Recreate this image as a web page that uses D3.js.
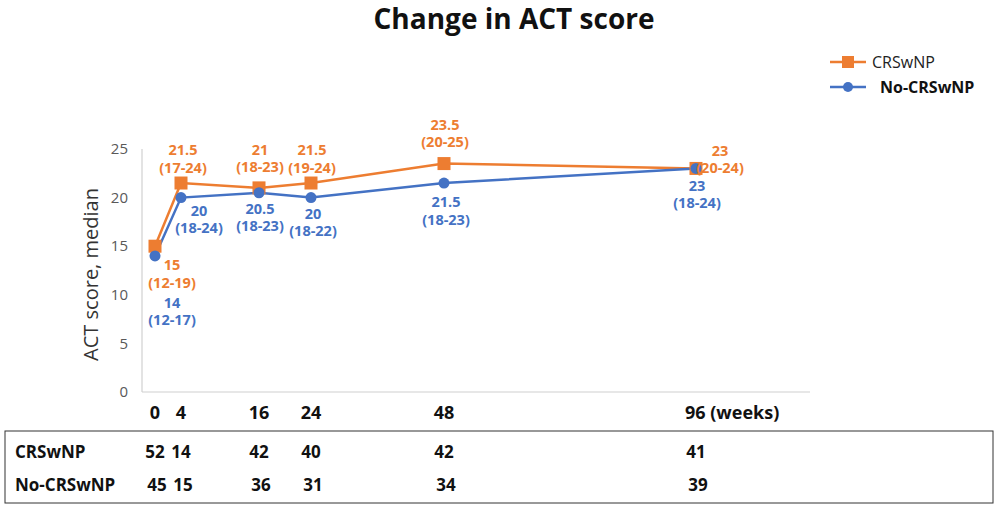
<!DOCTYPE html>
<html lang="en">
<head>
<meta charset="UTF-8">
<title>Change in ACT score</title>
<style>
  body, html {
    margin: 0;
    background: #fff;
    overflow: hidden;
  }
  svg text {
    font-family: "Open Sans", "Liberation Sans", sans-serif;
  }
</style>
</head>
<body>
<div id="chart"></div>

<script src="https://cdnjs.cloudflare.com/ajax/libs/d3/7.8.5/d3.min.js"></script>
<script>
// weeks of follow-up
const weeks = [0, 4, 16, 24, 48, 96];
const weekLabels = ["0", "4", "16", "24", "48", "96 (weeks)"];

// median ACT score and IQR
const crsMedian = [15, 21.5, 21, 21.5, 23.5, 23];
const crsRange = ["(12-19)", "(17-24)", "(18-23)", "(19-24)", "(20-25)", "(20-24)"];
const noMedian = [14, 20, 20.5, 20, 21.5, 23];
const noRange = ["(12-17)", "(18-24)", "(18-23)", "(18-22)", "(18-23)", "(18-24)"];

// patients at each visit
const crsN = [52, 14, 42, 40, 42, 41];
const noN = [45, 15, 36, 31, 34, 39];

const yTicks = [0, 5, 10, 15, 20, 25];

const orange = "#ED7D31";
const blue = "#4472C4";

const W = 999, H = 510;
const svg = d3.select("#chart").append("svg")
  .attr("width", W)
  .attr("height", H);

// the time axis is not quite linear in the original, so piece it together
const x = d3.scaleLinear()
  .domain([0, 24, 48, 96])
  .range([155, 311, 444, 696]);

const y = d3.scaleLinear()
  .domain([0, 25])
  .range([392, 149]);

// title
svg.append("text")
  .attr("x", 514)
  .attr("y", 29)
  .attr("text-anchor", "middle")
  .attr("font-size", 28)
  .attr("font-weight", "bold")
  .attr("fill", "#111")
  .text("Change in ACT score");

// axes lines
svg.append("line")
  .attr("x1", 142).attr("x2", 142)
  .attr("y1", y(25)).attr("y2", y(0))
  .attr("stroke", "#d0d0d0").attr("stroke-width", 1.2);
svg.append("line")
  .attr("x1", 142).attr("x2", 810)
  .attr("y1", y(0)).attr("y2", y(0))
  .attr("stroke", "#d0d0d0").attr("stroke-width", 1.2);

// y tick labels
svg.selectAll(".ytick")
  .data(yTicks)
  .enter().append("text")
  .attr("class", "ytick")
  .attr("x", 128)
  .attr("y", d => y(d))
  .attr("dy", "0.35em")
  .attr("text-anchor", "end")
  .attr("font-size", 15)
  .attr("fill", "#595959")
  .text(d => d);

// y title
svg.append("text")
  .attr("transform", `translate(98,${(y(0) + y(25)) / 2 + 4}) rotate(-90)`)
  .attr("text-anchor", "middle")
  .attr("font-size", 20)
  .attr("fill", "#333")
  .text("ACT score, median");

// x tick labels
svg.selectAll(".xtick")
  .data(weeks)
  .enter().append("text")
  .attr("class", "xtick")
  .attr("x", d => x(d))
  .attr("y", 419)
  .attr("text-anchor", (d, i) => i === weeks.length - 1 ? "start" : "middle")
  .attr("dx", (d, i) => i === weeks.length - 1 ? -11 : 0)
  .attr("font-size", 18)
  .attr("font-weight", "bold")
  .attr("fill", "#111")
  .text((d, i) => weekLabels[i]);

// lines
const line = d3.line()
  .x(d => x(d[0]))
  .y(d => y(d[1]));

const crsPts = weeks.map((w, i) => [w, crsMedian[i]]);
const noPts = weeks.map((w, i) => [w, noMedian[i]]);

svg.append("path")
  .datum(crsPts)
  .attr("d", line)
  .attr("fill", "none")
  .attr("stroke", orange)
  .attr("stroke-width", 2.5);

svg.append("path")
  .datum(noPts)
  .attr("d", line)
  .attr("fill", "none")
  .attr("stroke", blue)
  .attr("stroke-width", 2.5);

svg.selectAll(".sq")
  .data(crsPts)
  .enter().append("rect")
  .attr("x", d => x(d[0]) - 6.5)
  .attr("y", d => y(d[1]) - 6.5)
  .attr("width", 13)
  .attr("height", 13)
  .attr("fill", orange);

svg.selectAll(".dot")
  .data(noPts)
  .enter().append("circle")
  .attr("cx", d => x(d[0]))
  .attr("cy", d => y(d[1]))
  .attr("r", 5.5)
  .attr("fill", blue);

// data label offsets from their marker (dx, dy of first line centre)
const crsOff = [[17, 19], [2, -33], [1, -38], [1, -33], [1, -39], [24, -18]];
const noOff = [[17, 47], [18, 13], [1, 16], [2, 16], [2, 19], [1, 17]];

function addLabels(pts, median, range, off, color) {
  const g = svg.append("g");
  pts.forEach((p, i) => {
    const cx = x(p[0]) + off[i][0];
    const t = g.append("text")
      .attr("x", cx)
      .attr("y", y(p[1]) + off[i][1])
      .attr("text-anchor", "middle")
      .attr("font-size", 14.5)
      .attr("font-weight", "bold")
      .attr("fill", color);
    t.append("tspan").attr("x", cx).attr("dy", "0.35em").text(median[i]);
    t.append("tspan").attr("x", cx).attr("dy", 17.5).text(range[i]);
  });
}
addLabels(crsPts, crsMedian, crsRange, crsOff, orange);
addLabels(noPts, noMedian, noRange, noOff, blue);

// legend
const leg = svg.append("g").attr("transform", "translate(830,62)");
leg.append("line").attr("x1", 0).attr("x2", 36).attr("y1", 0).attr("y2", 0)
  .attr("stroke", orange).attr("stroke-width", 2.5);
leg.append("rect").attr("x", 12).attr("y", -6).attr("width", 12).attr("height", 12).attr("fill", orange);
leg.append("text").attr("x", 42).attr("y", 0).attr("dy", "0.35em")
  .attr("font-size", 16).attr("fill", "#222").text("CRSwNP");

leg.append("line").attr("x1", 0).attr("x2", 36).attr("y1", 25).attr("y2", 25)
  .attr("stroke", blue).attr("stroke-width", 2.5);
leg.append("circle").attr("cx", 18).attr("cy", 25).attr("r", 5).attr("fill", blue);
leg.append("text").attr("x", 50).attr("y", 25).attr("dy", "0.35em")
  .attr("font-size", 16).attr("font-weight", "bold").attr("fill", "#111").text("No-CRSwNP");

// patient count table
svg.append("rect")
  .attr("x", 5).attr("y", 431)
  .attr("width", 988).attr("height", 72)
  .attr("fill", "none")
  .attr("stroke", "#333")
  .attr("stroke-width", 1);

const rows = [["CRSwNP", crsN, 458], ["No-CRSwNP", noN, 491]];
rows.forEach(r => {
  svg.append("text")
    .attr("x", 15).attr("y", r[2])
    .attr("font-size", 17).attr("font-weight", "bold").attr("fill", "#111")
    .text(r[0]);
  svg.selectAll(null)
    .data(r[1])
    .enter().append("text")
    .attr("x", (d, i) => x(weeks[i]) + (r[0] === "CRSwNP" ? 0 : 2))
    .attr("y", r[2])
    .attr("text-anchor", "middle")
    .attr("font-size", 17).attr("font-weight", "bold").attr("fill", "#111")
    .text(d => d);
});
</script>
</body>
</html>
